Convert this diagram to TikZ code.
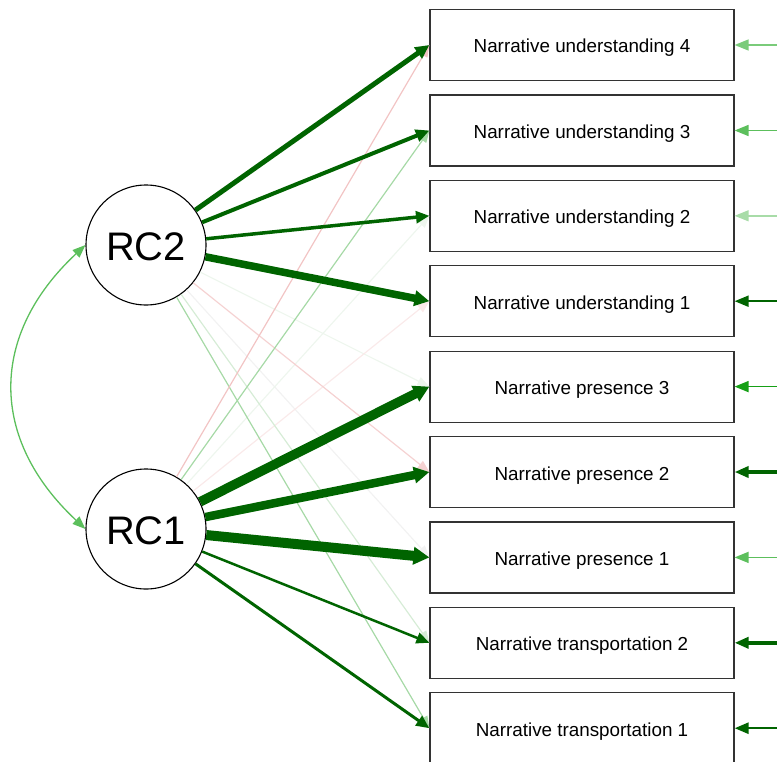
\documentclass[tikz,border=0pt]{standalone}
\usepackage{fontspec}
\setmainfont{Liberation Sans}
\usetikzlibrary{arrows.meta}

% edge colours
\definecolor{dkgreen}{RGB}{0,100,0}
\definecolor{mdgreen}{RGB}{22,160,22}
\definecolor{ltgreen}{RGB}{92,191,92}
\definecolor{lgreen}{RGB}{122,203,122}
\definecolor{pgreen}{RGB}{168,220,168}
\definecolor{xgreen}{RGB}{166,217,166}
\definecolor{fgreen}{RGB}{214,236,214}
\definecolor{vfgreen}{RGB}{238,246,238}
\definecolor{pinkA}{RGB}{242,196,196}
\definecolor{pinkB}{RGB}{245,210,210}
\definecolor{pinkC}{RGB}{250,234,234}
\definecolor{vfgray}{RGB}{242,242,242}
\definecolor{boxgray}{RGB}{51,51,51}

\begin{document}
\begin{tikzpicture}[x=1bp,y=-1bp,
  indicator/.style={draw=boxgray, line width=1.2bp, fill=white,
    minimum width=304bp, minimum height=71bp, inner sep=0pt,
    text height=16bp, text depth=0pt,
    font=\fontsize{18.9}{22}\selectfont},
  latent/.style={circle, draw=black, line width=1.1bp, fill=white,
    minimum size=120bp, inner sep=0pt,
    text height=30bp, text depth=0pt,
    font=\fontsize{40}{46}\selectfont},
  loading/.style={draw=dkgreen, line width=#1,
    -{Triangle[length=12bp 0.4,width=9bp 0.8]}},
  crossload/.style={draw=#1, line width=1.2bp,
    -{Triangle[length=12bp,width=9bp]}},
  resid/.style 2 args={draw=#1, line width=#2,
    -{Triangle[length=14bp,width=11bp]}},
  covar/.style={draw=ltgreen, line width=1.3bp,
    {Triangle[length=13bp,width=10bp]}-{Triangle[length=13bp,width=10bp]}}
]
\useasboundingbox (0,0) rectangle (777,762);

% latent factors
\node[latent] (RC2) at (146,245) {RC2};
\node[latent] (RC1) at (146,529) {RC1};

% observed indicators
\node[indicator] (NU4) at (582,45)    {Narrative understanding 4};
\node[indicator] (NU3) at (582,130.5) {Narrative understanding 3};
\node[indicator] (NU2) at (582,215.8) {Narrative understanding 2};
\node[indicator] (NU1) at (582,301.2) {Narrative understanding 1};
\node[indicator] (NP3) at (582,386.6) {Narrative presence 3};
\node[indicator] (NP2) at (582,472)   {Narrative presence 2};
\node[indicator] (NP1) at (582,557.4) {Narrative presence 1};
\node[indicator] (NT2) at (582,642.8) {Narrative transportation 2};
\node[indicator] (NT1) at (582,728.2) {Narrative transportation 1};

% residual entry points at the right margin
\coordinate (eNU4) at (777,45);
\coordinate (eNU3) at (777,130.5);
\coordinate (eNU2) at (777,215.8);
\coordinate (eNU1) at (777,301.2);
\coordinate (eNP3) at (777,386.6);
\coordinate (eNP2) at (777,472);
\coordinate (eNP1) at (777,557.4);
\coordinate (eNT2) at (777,642.8);
\coordinate (eNT1) at (777,728.2);

% weak cross-loadings
\draw[crossload=vfgray]  (RC2) -- (NP1.west);
\draw[crossload=vfgreen] (RC2) -- (NP3.west);
\draw[crossload=pinkC]   (RC1) -- (NU1.west);
\draw[crossload=vfgreen] (RC1) -- (NU2.west);
\draw[crossload=fgreen]  (RC2) -- (NT2.west);
\draw[crossload=pinkB]   (RC2) -- (NP2.west);
\draw[crossload=xgreen]  (RC2) -- (NT1.west);
\draw[crossload=xgreen]  (RC1) -- (NU3.west);
\draw[crossload=pinkA]   (RC1) -- (NU4.west);

% main loadings
\draw[loading=5bp]   (RC2) -- (NU4.west);
\draw[loading=4bp]   (RC2) -- (NU3.west);
\draw[loading=3.5bp] (RC2) -- (NU2.west);
\draw[loading=7.5bp] (RC2) -- (NU1.west);
\draw[loading=9.5bp] (RC1) -- (NP3.west);
\draw[loading=8.5bp] (RC1) -- (NP2.west);
\draw[loading=10bp]  (RC1) -- (NP1.west);
\draw[loading=2.5bp] (RC1) -- (NT2.west);
\draw[loading=3bp]   (RC1) -- (NT1.west);

% residual variances
\draw[resid={lgreen}{1.4bp}]  (eNU4) -- (NU4.east);
\draw[resid={ltgreen}{1.6bp}] (eNU3) -- (NU3.east);
\draw[resid={pgreen}{1.4bp}]  (eNU2) -- (NU2.east);
\draw[resid={dkgreen}{2bp}]   (eNU1) -- (NU1.east);
\draw[resid={mdgreen}{1.6bp}] (eNP3) -- (NP3.east);
\draw[resid={dkgreen}{3.5bp}] (eNP2) -- (NP2.east);
\draw[resid={ltgreen}{1.5bp}] (eNP1) -- (NP1.east);
\draw[resid={dkgreen}{4bp}]   (eNT2) -- (NT2.east);
\draw[resid={dkgreen}{2.5bp}] (eNT1) -- (NT1.east);

% factor covariance
\draw[covar] (RC2.west) .. controls (-11,335) and (-11,439) .. (RC1.west);
\end{tikzpicture}
\end{document}
